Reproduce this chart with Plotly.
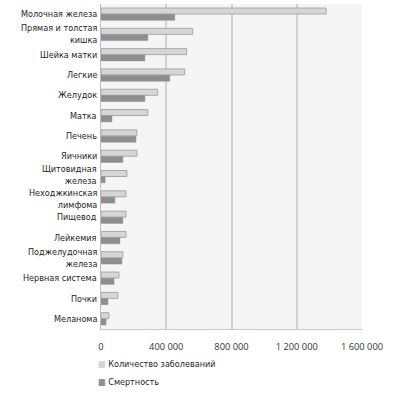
import plotly.graph_objects as go

categories = ["Молочная железа", "Прямая и толстая<br>кишка", "Шейка матки", "Легкие", "Желудок",
              "Матка", "Печень", "Яичники", "Щитовидная<br>железа", "Неходжкинская<br>лимфома",
              "Пищевод", "Лейкемия", "Поджелудочная<br>железа", "Нервная система", "Почки", "Меланома"]
incidence = [1380000, 562000, 525000, 513000, 348000, 287000, 220000, 220000, 159000, 153000,
             153000, 153000, 134000, 110000, 104000, 49000]
mortality = [452000, 287000, 269000, 421000, 269000, 67000, 214000, 134000, 25000, 85000,
             134000, 116000, 128000, 80000, 43000, 31000]
tick_vals = [0, 400000, 800000, 1200000, 1600000]
tick_text = ["0", "400 000", "800 000", "1 200 000", "1 600 000"]
series_names = ["Количество заболеваний", "Смертность"]
series_colors = ["#d6d6d6", "#8e8e8e"]

label_font = "DejaVu Sans Condensed, Liberation Sans Narrow, Roboto, sans-serif"
label_nudge = {"Щитовидная<br>железа": 1.5, "Неходжкинская<br>лимфома": -2}

fig = go.Figure()
fig.add_trace(go.Bar(y=categories, x=incidence, orientation="h", name=series_names[0],
                     marker=dict(color=series_colors[0], line=dict(color="#a8a8a8", width=1))))
fig.add_trace(go.Bar(y=categories, x=mortality, orientation="h", name=series_names[1],
                     marker=dict(color=series_colors[1], line=dict(color=series_colors[1], width=0.5))))

# category labels as annotations (vertically centred multi-line)
for c in categories:
    fig.add_annotation(x=0, y=c, xref="x", yref="y", text=c, showarrow=False,
                       xanchor="right", yanchor="middle", xshift=-3, yshift=label_nudge.get(c, 0),
                       align="right", borderpad=0,
                       font=dict(family=label_font, size=9, color="#1e1e1e"))

# legend as text entries
legend_y = [-0.108, -0.163]
for name, col, ly in zip(series_names, series_colors, legend_y):
    fig.add_annotation(x=-0.016, y=ly, xref="paper", yref="paper",
                       text=f'<span style="color:{col}">■</span> {name}', showarrow=False,
                       xanchor="left", yanchor="middle", borderpad=0,
                       font=dict(family=label_font, size=9, color="#1e1e1e"))

fig.update_layout(
    width=393, height=402,
    margin=dict(l=101, r=31, t=4, b=73),
    paper_bgcolor="white", plot_bgcolor="#f5f5f5",
    barmode="group", bargap=0.38, bargroupgap=0.05,
    font=dict(family=label_font, size=9, color="#1e1e1e"),
    showlegend=False,
    xaxis=dict(range=[0, 1600000], tickvals=tick_vals, ticktext=tick_text,
               showgrid=True, gridcolor="#d2d2d2", gridwidth=2, zeroline=False,
               showline=True, linecolor="#c8c8c8", linewidth=1, mirror=False,
               tickfont=dict(family="Open Sans, Liberation Sans, sans-serif", size=9.3, color="#333333"),
               ticks="", ticklabelstandoff=9),
    yaxis=dict(autorange="reversed", showgrid=False, showline=True, linecolor="#bdbdbd", linewidth=1,
               ticks="", showticklabels=False),
)
fig.write_html("out.html", config={"displayModeBar": False},
               post_script="document.body.style.margin='0';document.body.style.padding='0';")
